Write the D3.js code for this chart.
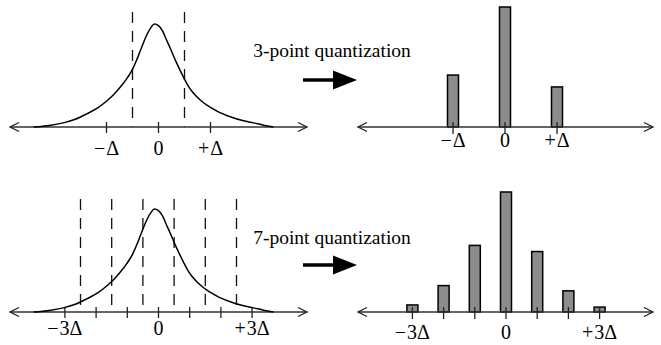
<!DOCTYPE html>
<html>
<head>
<meta charset="utf-8">
<script src="https://cdn.jsdelivr.net/npm/d3@7"></script>
</head>
<body style="margin:0">
<script>
const WIDTH = 661
const HEIGHT = 345
const FONT = '"Liberation Serif", "Times New Roman", Times, Tinos, "Nimbus Roman", FreeSerif, serif'

// density: x in units of the coarse step, height relative to the peak
const curveX = [-2.40, -2.10, -1.83, -1.60, -1.37, -1.17, -0.98, -0.85, -0.73, -0.61, -0.50, -0.42, -0.35, -0.28, -0.21, -0.14, -0.08,
  0.00, 0.08, 0.15, 0.23, 0.35, 0.48, 0.57, 0.67, 0.83, 1.00, 1.18, 1.38, 1.60, 1.83, 2.02, 2.21]
const curveY = [0, 0.015, 0.04, 0.075, 0.13, 0.185, 0.26, 0.32, 0.39, 0.47, 0.56, 0.65, 0.74, 0.83, 0.91, 0.97, 1.0,
  0.985, 0.93, 0.85, 0.76, 0.62, 0.485, 0.40, 0.33, 0.25, 0.19, 0.14, 0.10, 0.065, 0.04, 0.018, 0]

const steps3 = [-1, 0, 1]
const probs3 = [0.245, 0.566, 0.189]
const labels3 = ['−Δ', '0', '+Δ']

const steps7 = [-3, -2, -1, 0, 1, 2, 3]
const probs7 = [0.023, 0.086, 0.217, 0.391, 0.197, 0.069, 0.016]
const labels7 = ['−3Δ', '', '', '0', '', '', '+3Δ']

const titles = ['3-point quantization', '7-point quantization']

const panels = [
  { axisY: 127, delta: 1, steps: steps3, probs: probs3, labels: labels3, title: titles[0],
    cxR: 505, labelYL: 155, labelYR: 147, dashTop: 12, titleY: 57, arrowY: 80 },
  { axisY: 312, delta: 0.6, steps: steps7, probs: probs7, labels: labels7, title: titles[1],
    cxR: 506, labelYL: 335, labelYR: 339, dashTop: 199, titleY: 244, arrowY: 265 }
]

const svg = d3.select('body')
  .append('svg')
  .attr('width', WIDTH)
  .attr('height', HEIGHT)
  .attr('font-family', FONT)
  .style('font-family', FONT)

const curveData = curveX.map((x, i) => [x, curveY[i]])

const axisArrows = (g, x0, x1, y) => {
  g.append('line')
    .attr('x1', x0).attr('x2', x1).attr('y1', y).attr('y2', y)
    .attr('stroke', '#333').attr('stroke-width', 1.6)
  g.append('path')
    .attr('d', `M${x0 + 9},${y - 4.5}L${x0},${y}L${x0 + 9},${y + 4.5}`)
    .attr('fill', 'none').attr('stroke', '#222').attr('stroke-width', 1.3)
  g.append('path')
    .attr('d', `M${x1 - 9},${y - 4.5}L${x1},${y}L${x1 - 9},${y + 4.5}`)
    .attr('fill', 'none').attr('stroke', '#222').attr('stroke-width', 1.3)
}

const labelText = (g, x, y, s) => {
  const t = g.append('text')
    .attr('x', x).attr('y', y)
    .attr('text-anchor', 'middle')
    .attr('font-family', FONT)
    .style('font-family', FONT)
    .attr('font-size', 20)
  if (s.length > 1) {
    // small gap after the sign, like TeX
    t.append('tspan').text(s[0])
    t.append('tspan').attr('dx', 1).text(s.slice(1))
  } else {
    t.text(s)
  }
}

panels.forEach(p => {
  const g = svg.append('g')
  const xl = d3.scaleLinear().domain([-1, 1]).range([106.5, 210.5])
  const xr = d3.scaleLinear().domain([-1, 1]).range([p.cxR - 52, p.cxR + 52])
  const yc = d3.scaleLinear().domain([0, 1]).range([p.axisY, p.axisY - 103])
  const yb = d3.scaleLinear().domain([0, d3.max(p.probs)]).range([p.axisY, p.axisY - 120])

  // left: density with decision boundaries
  const bounds = p.steps.slice(1).map(s => (s - 0.5) * p.delta)
  g.selectAll('line.dash')
    .data(bounds)
    .join('line')
    .attr('class', 'dash')
    .attr('x1', d => xl(d)).attr('x2', d => xl(d))
    .attr('y1', p.dashTop).attr('y2', p.axisY)
    .attr('stroke', '#111').attr('stroke-width', 1.3)
    .attr('stroke-dasharray', '11,8')

  axisArrows(g, 10, 307, p.axisY)

  g.selectAll('line.tickL')
    .data(p.steps)
    .join('line')
    .attr('class', 'tickL')
    .attr('x1', d => xl(d * p.delta)).attr('x2', d => xl(d * p.delta))
    .attr('y1', p.axisY - 5).attr('y2', p.axisY + 6)
    .attr('stroke', '#222').attr('stroke-width', 1.3)

  g.append('path')
    .datum(curveData)
    .attr('d', d3.line()
      .x(d => xl(d[0]))
      .y(d => yc(d[1]))
      .curve(d3.curveMonotoneX))
    .attr('fill', 'none').attr('stroke', '#000').attr('stroke-width', 1.5)

  p.steps.forEach((s, i) => {
    if (p.labels[i]) labelText(g, xl(s * p.delta), p.labelYL, p.labels[i])
  })

  // right: quantized probabilities
  g.selectAll('rect.bar')
    .data(p.steps)
    .join('rect')
    .attr('class', 'bar')
    .attr('x', d => xr(d * p.delta) - 5.5)
    .attr('width', 11)
    .attr('y', (d, i) => yb(p.probs[i]))
    .attr('height', (d, i) => p.axisY - yb(p.probs[i]))
    .attr('fill', '#8c8c8c').attr('stroke', '#000').attr('stroke-width', 1.5)

  axisArrows(g, 358, 653, p.axisY)

  g.selectAll('line.tickR')
    .data(p.steps)
    .join('line')
    .attr('class', 'tickR')
    .attr('x1', d => xr(d * p.delta)).attr('x2', d => xr(d * p.delta))
    .attr('y1', p.axisY - 5).attr('y2', p.axisY + 7)
    .attr('stroke', '#222').attr('stroke-width', 1.3)

  p.steps.forEach((s, i) => {
    if (p.labels[i]) labelText(g, xr(s * p.delta), p.labelYR, p.labels[i])
  })

  // title
  g.append('text')
    .attr('x', 332).attr('y', p.titleY)
    .attr('text-anchor', 'middle')
    .attr('font-family', FONT)
    .style('font-family', FONT)
    .attr('font-size', 19.5)
    .text(p.title)

  // big arrow
  g.append('line')
    .attr('x1', 303).attr('x2', 336).attr('y1', p.arrowY).attr('y2', p.arrowY)
    .attr('stroke', '#000').attr('stroke-width', 3.5)
  g.append('path')
    .attr('d', `M333,${p.arrowY - 9.5}L357,${p.arrowY}L333,${p.arrowY + 9.5}Z`)
    .attr('fill', '#000')
})
</script>
</body>
</html>
